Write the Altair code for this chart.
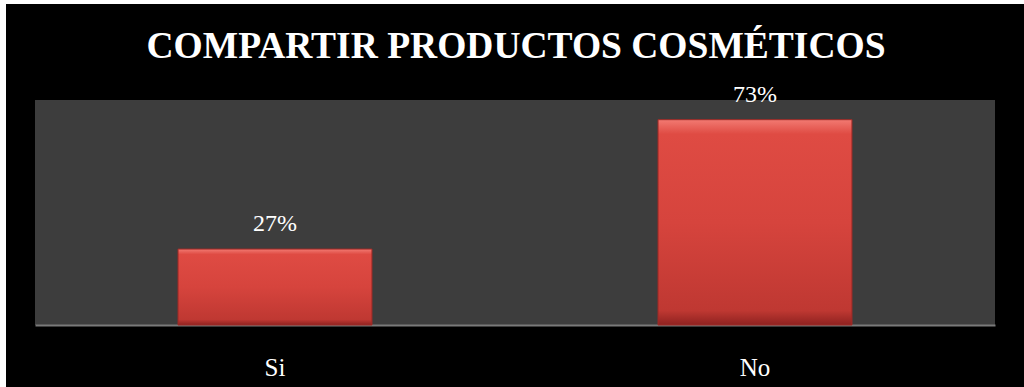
import altair as alt
import pandas as pd

categories = ["Si", "No"]
values = [0.27, 0.73]
title_text = "COMPARTIR PRODUCTOS COSMÉTICOS"

df = pd.DataFrame({"cat": categories, "val": values})

FONT = "Liberation Serif"

x_enc = alt.X(
    "cat:N",
    sort=categories,
    scale=alt.Scale(paddingInner=0.596, paddingOuter=0.298),
    axis=alt.Axis(
        title=None,
        labelAngle=0,
        ticks=False,
        tickSize=0,
        labelPadding=50,
        labelBaseline="alphabetic",
        labelFont=FONT,
        labelFontSize=25,
        labelColor="white",
        domainColor="#7a7a7a",
        domainWidth=2,
        grid=False,
    ),
)
y_enc = alt.Y("val:Q", scale=alt.Scale(domain=[0, 0.8]), axis=None)

base = alt.Chart(df)

bars = base.mark_bar(
    color=alt.Gradient(
        gradient="linear",
        x1=0, x2=0, y1=0, y2=1,
        stops=[
            alt.GradientStop(color="#f27a72", offset=0),
            alt.GradientStop(color="#df4b43", offset=0.07),
            alt.GradientStop(color="#d6443d", offset=0.5),
            alt.GradientStop(color="#bf3832", offset=0.93),
            alt.GradientStop(color="#8e2220", offset=1),
        ],
    ),
    stroke="#a02a26",
    strokeWidth=1,
).encode(x=x_enc, y=y_enc)

labels = base.mark_text(
    font=FONT, fontSize=24, color="white", dy=-18, baseline="alphabetic"
).encode(x=x_enc, y=y_enc, text=alt.Text("val:Q", format=".0%"))

deco = alt.Data(values=[{"t": title_text}])
left_strip = alt.Chart(deco).mark_rect(color="white").encode(
    x=alt.value(-35), x2=alt.value(-29), y=alt.value(-100), y2=alt.value(287)
)
top_strip = alt.Chart(deco).mark_rect(color="white").encode(
    x=alt.value(-35), x2=alt.value(989), y=alt.value(-100), y2=alt.value(-96)
)
title_mark = alt.Chart(deco).mark_text(
    font=FONT, fontSize=37.5, fontWeight="bold", color="white",
    align="center", baseline="alphabetic",
).encode(x=alt.value(481), y=alt.value(-42), text="t:N")

chart = alt.layer(left_strip, top_strip, title_mark, bars, labels).properties(
    width=960,
    height=225,
    background="black",
    padding={"left": 35, "top": 100, "right": 29, "bottom": 62},
    autosize=alt.AutoSizeParams(type="none"),
).configure_view(fill="#3d3d3d", stroke=None)

chart.save("out.html", embed_options={"renderer": "svg", "actions": False})
